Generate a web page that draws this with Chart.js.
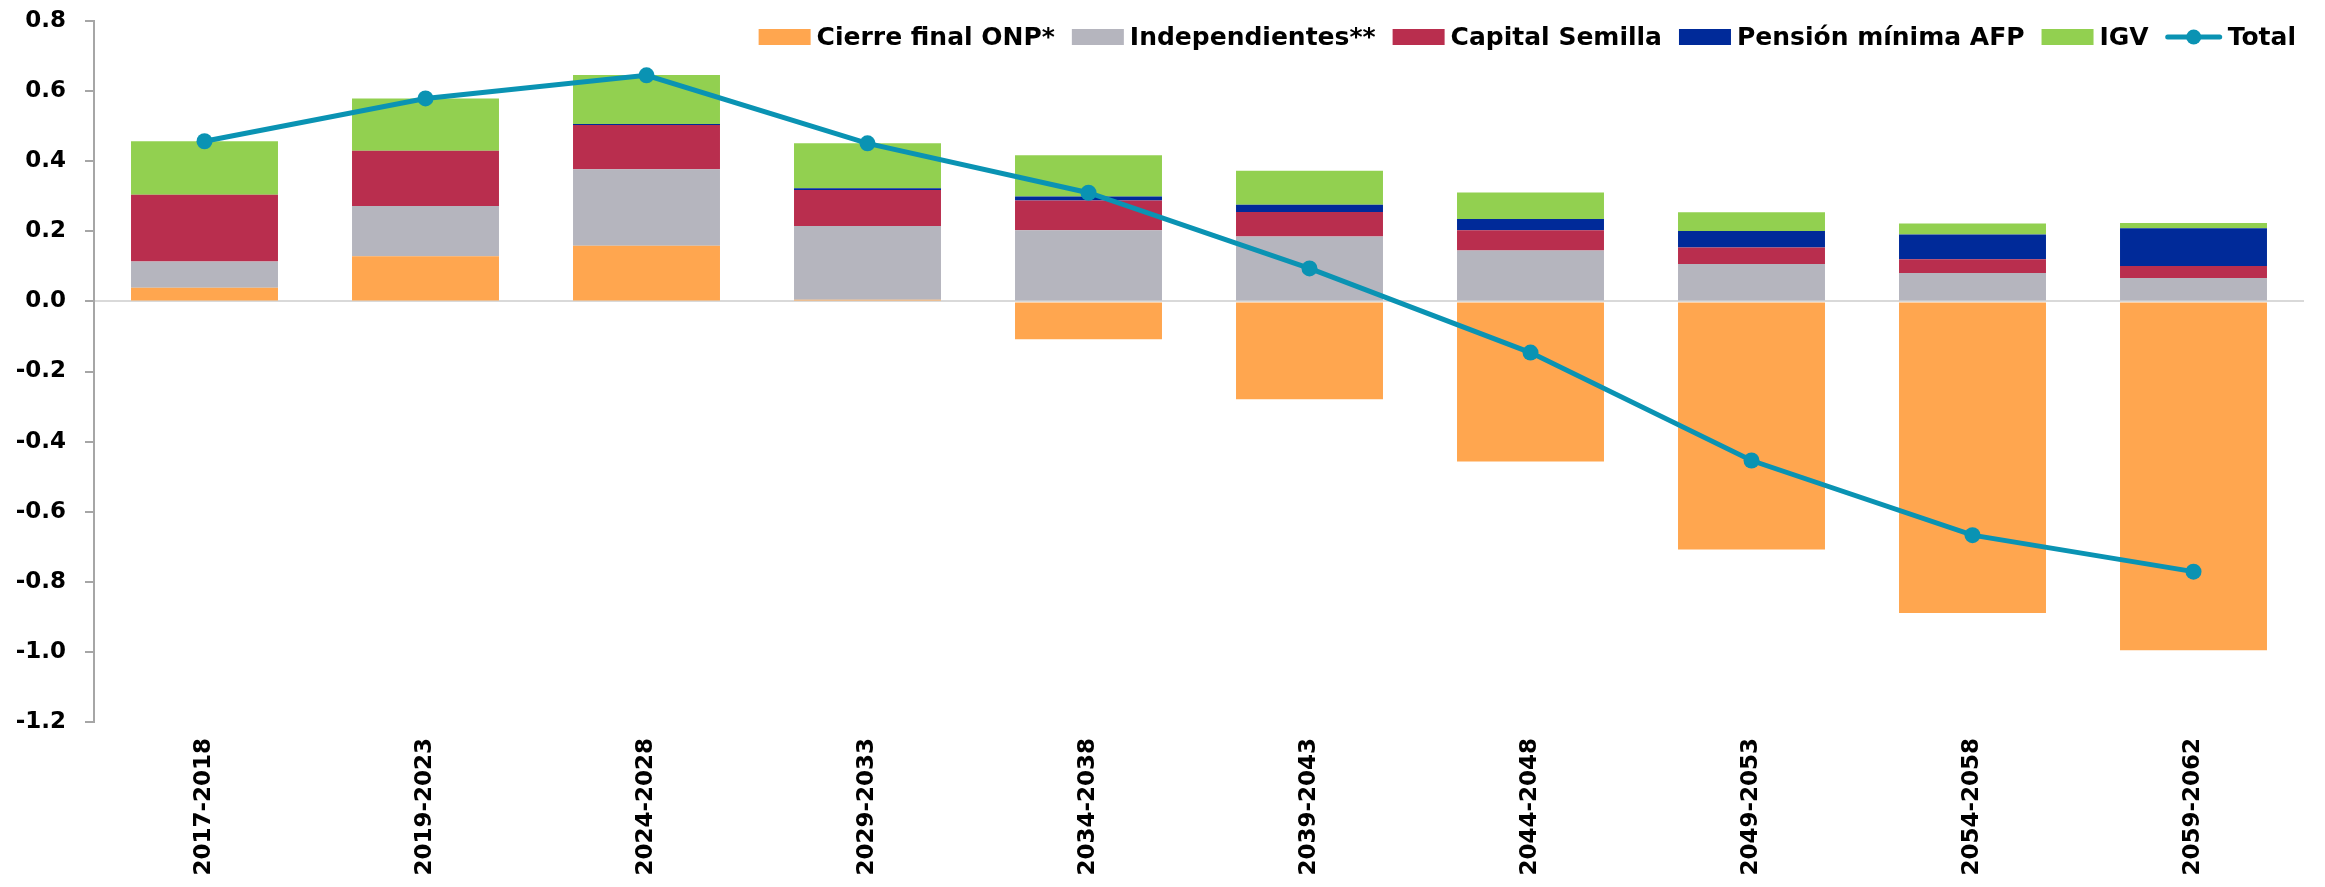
<!DOCTYPE html>
<html>
<head>
<meta charset="utf-8">
<script src="https://cdn.jsdelivr.net/npm/chart.js@4.4.0/dist/chart.umd.min.js"></script>
<style>
  html, body { margin: 0; padding: 0; background: #ffffff; }
  #wrap { width: 2325px; height: 887px; position: relative; }
</style>
</head>
<body>
<div id="wrap"><canvas id="chart" width="2325" height="887"></canvas></div>
<script>
// Periods on the category axis
const periods = ['2017-2018', '2019-2023', '2024-2028', '2029-2033', '2034-2038',
                 '2039-2043', '2044-2048', '2049-2053', '2054-2058', '2059-2062'];

// Components of the fiscal cost (% of GDP)
const cierreFinalONP   = [0.039, 0.129, 0.159, 0.005, -0.108, -0.279, -0.457, -0.708, -0.889, -0.995];
const independientes   = [0.075, 0.143, 0.218, 0.210, 0.203, 0.185, 0.145, 0.107, 0.081, 0.067];
const capitalSemilla   = [0.190, 0.158, 0.126, 0.103, 0.085, 0.070, 0.058, 0.047, 0.039, 0.034];
const pensionMinimaAFP = [0.000, 0.000, 0.003, 0.005, 0.011, 0.021, 0.032, 0.047, 0.071, 0.108];
const igv              = [0.153, 0.149, 0.140, 0.128, 0.118, 0.097, 0.076, 0.053, 0.031, 0.015];
const total            = [0.457, 0.579, 0.645, 0.451, 0.310, 0.094, -0.146, -0.454, -0.667, -0.771];

// Value axis range and step
const yMin = -1.2, yMax = 0.8, yStep = 0.2;

const FONT = 'DejaVu Sans';

// Legend drawn across the top right, inside the plot area
const topLegend = {
  id: 'topLegend',
  afterDraw(chart) {
    const ctx = chart.ctx;
    const boxW = 52, boxH = 16, lineW = 56, gapBoxText = 6, gapItem = 17;
    const cy = 37, rightEdge = 2296;
    ctx.save();
    ctx.font = 'bold 25px "' + FONT + '"';
    ctx.textBaseline = 'middle';
    const items = chart.data.datasets.map(ds => ({
      ds,
      mark: ds.type === 'line' ? lineW : boxW,
      tw: ctx.measureText(ds.label).width
    }));
    let width = 0;
    items.forEach((it, i) => {
      width += it.mark + gapBoxText + it.tw + (i < items.length - 1 ? gapItem : 0);
    });
    let x = rightEdge - width;
    items.forEach(it => {
      const ds = it.ds;
      if (ds.type === 'line') {
        ctx.strokeStyle = ds.borderColor;
        ctx.lineWidth = 5;
        ctx.lineCap = 'round';
        ctx.beginPath();
        ctx.moveTo(x + 2, cy);
        ctx.lineTo(x + it.mark - 2, cy);
        ctx.stroke();
        ctx.fillStyle = ds.borderColor;
        ctx.beginPath();
        ctx.arc(x + it.mark / 2, cy, 7.5, 0, Math.PI * 2);
        ctx.fill();
      } else {
        ctx.fillStyle = ds.backgroundColor;
        ctx.fillRect(x, cy - boxH / 2, boxW, boxH);
      }
      x += it.mark + gapBoxText;
      ctx.fillStyle = '#000000';
      ctx.fillText(ds.label, x, cy + 1);
      x += it.tw + gapItem;
    });
    ctx.restore();
  }
};

function barSet(label, data, color) {
  return {
    type: 'bar', label, data,
    backgroundColor: color,
    borderWidth: 0,
    stack: 'componentes',
    order: 1,
    categoryPercentage: 1.0,
    barPercentage: 0.665
  };
}

new Chart(document.getElementById('chart'), {
  data: {
    labels: periods,
    datasets: [
      barSet('Cierre final ONP*', cierreFinalONP, '#FFA64F'),
      barSet('Independientes**', independientes, '#B5B5BE'),
      barSet('Capital Semilla', capitalSemilla, '#B92E4E'),
      barSet('Pensión mínima AFP', pensionMinimaAFP, '#002A99'),
      barSet('IGV', igv, '#92D050'),
      {
        type: 'line', label: 'Total', data: total,
        borderColor: '#0A93B3', backgroundColor: '#0A93B3',
        borderWidth: 5,
        pointRadius: 8, pointHoverRadius: 8,
        pointBackgroundColor: '#0A93B3', pointBorderWidth: 0,
        tension: 0, fill: false,
        stack: 'total',
        order: 0
      }
    ]
  },
  options: {
    responsive: false,
    animation: false,
    devicePixelRatio: 1,
    layout: { padding: { top: 21, right: 21, left: 0, bottom: 0 } },
    plugins: { legend: { display: false }, tooltip: { enabled: false } },
    scales: {
      x: {
        stacked: true,
        grid: { display: false },
        border: { display: false },
        ticks: {
          minRotation: 90, maxRotation: 90,
          color: '#000000', padding: 8,
          font: { family: FONT, weight: 'bold', size: 23 }
        },
        afterFit(scale) { scale.height = 165; }
      },
      y: {
        stacked: true,
        min: yMin, max: yMax,
        ticks: {
          stepSize: yStep,
          color: '#000000', padding: 19,
          font: { family: FONT, weight: 'bold', size: 23 },
          callback: v => (Math.abs(v) < 1e-9 ? 0 : v).toFixed(1)
        },
        grid: {
          drawOnChartArea: true,
          color: c => (c.tick && Math.abs(c.tick.value) < 1e-9) ? '#D9D9D9' : 'rgba(0,0,0,0)',
          lineWidth: 2,
          tickColor: '#A6A6A6',
          tickLength: 9,
          tickWidth: 2
        },
        border: { display: true, color: '#A6A6A6', width: 2 },
        afterFit(scale) {
          scale.width = 94;
          scale.paddingTop = 0;
          scale.paddingBottom = 0;
        }
      }
    }
  },
  plugins: [topLegend]
});
</script>
</body>
</html>
